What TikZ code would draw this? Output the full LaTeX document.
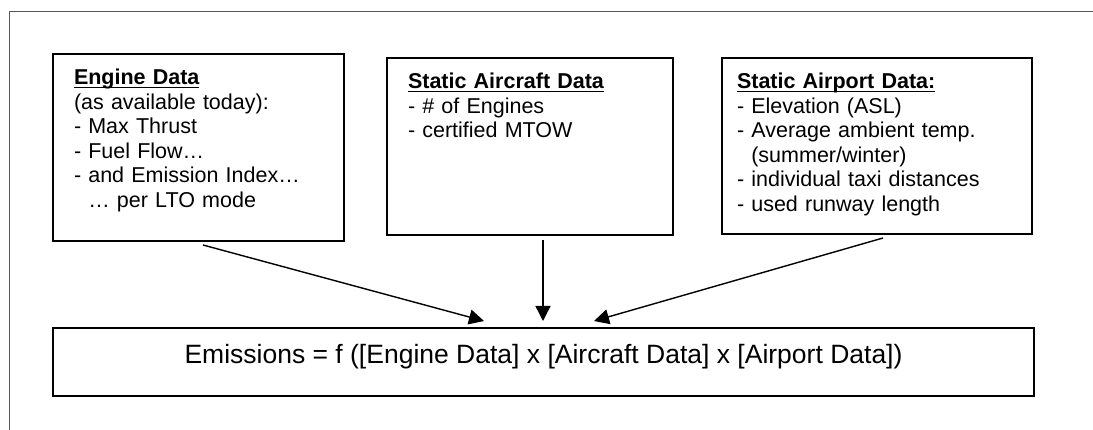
\documentclass[tikz,border=0pt]{standalone}
\usepackage{fontspec}
\setmainfont{Liberation Sans}
\usepackage{tikz}
\usetikzlibrary{arrows.meta}
\newcommand{\boxtitle}[1]{\setbox0\hbox{\bfseries #1}\rlap{\rule[-3.5pt]{\wd0}{1.5pt}}\box0}
\tikzset{
    databox/.style={rectangle, draw=black, line width=2pt, anchor=north west, align=left, inner xsep=21pt, inner ysep=0pt, text height=31pt, font=\fontsize{21.5}{24.5}\selectfont},
    resultbox/.style={rectangle, draw=black, line width=2pt, anchor=north west, inner sep=0pt, minimum width=981pt, text height=35pt, text depth=33pt, font=\fontsize{26.5}{30}\selectfont},
    arrow/.style={-{Triangle[length=15pt, width=15pt]}, line width=1.4pt},
    frameline/.style={draw=black!65, line width=1pt}
}
\begin{document}
\begin{tikzpicture}[x=1pt, y=-1pt]
    \useasboundingbox (0,0) rectangle (1093,430);
    % Frame
    \draw[frameline] (1093,12) -- (9.5,12) -- (9.5,430);

    % Input data
    \node[databox, text width=249pt, text depth=156pt] (Engine) at (52,53) {\boxtitle{Engine Data}\\ (as available today):\\ - Max Thrust\\ - Fuel Flow…\\ - and Emission Index…\\ \hphantom{- }… per LTO mode};
    \node[databox, text width=244pt, text depth=146pt] (Aircraft) at (386,57) {\boxtitle{Static Aircraft Data}\\ - \# of Engines\\ - certified MTOW};
    \node[databox, inner xsep=15pt, text width=280pt, text depth=145pt] (Airport) at (721,57) {\boxtitle{Static Airport Data:}\\ - Elevation (ASL)\\ - Average ambient temp.\\ \hphantom{- }(summer/winter)\\ - individual taxi distances\\ - used runway length};

    % Result
    \node[resultbox] (Result) at (52,327) {Emissions = f ([Engine Data] x [Aircraft Data] x [Airport Data])};

    \draw[arrow] ([shift={(4.5,3)}]Engine.south) -- ([shift={(-59.5,-6)}]Result.north);
    \draw[arrow] ([shift={(13,4)}]Aircraft.south) -- ([shift={(-0.5,-6)}]Result.north);
    \draw[arrow] ([shift={(6,3)}]Airport.south) -- ([shift={(50.5,-6)}]Result.north);
\end{tikzpicture}
\end{document}
